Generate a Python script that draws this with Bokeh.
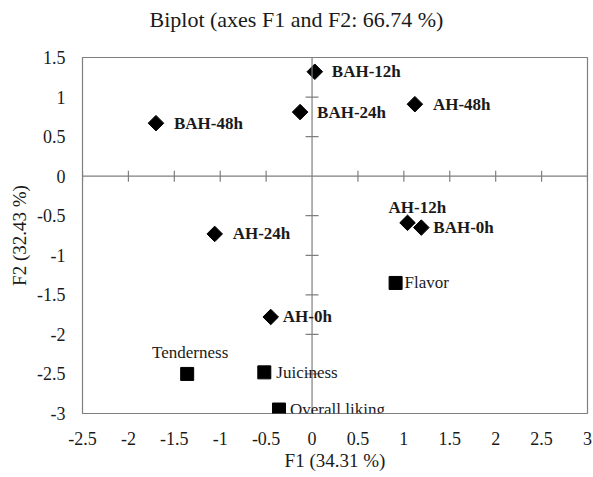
import math
from bokeh.plotting import figure
from bokeh.models import ColumnDataSource, Span, FixedTicker, LabelSet, Title
from bokeh.embed import file_html
from bokeh.resources import INLINE

# ---- data ----
obs_names = ["BAH-0h", "BAH-12h", "BAH-24h", "BAH-48h", "AH-0h", "AH-12h", "AH-24h", "AH-48h"]
obs_f1 = [1.19, 0.03, -0.13, -1.70, -0.45, 1.04, -1.06, 1.12]
obs_f2 = [-0.65, 1.32, 0.81, 0.67, -1.78, -0.59, -0.73, 0.91]

var_names = ["Tenderness", "Juiciness", "Flavor", "Overall liking"]
var_f1 = [-1.36, -0.52, 0.91, -0.36]
var_f2 = [-2.50, -2.48, -1.35, -2.95]

x_ticks = [-2.5, -2, -1.5, -1, -0.5, 0, 0.5, 1, 1.5, 2, 2.5, 3]
x_tick_labels = ["-2.5", "-2", "-1.5", "-1", "-0.5", "0", "0.5", "1", "1.5", "2", "2.5", "3"]
y_ticks = [-3, -2.5, -2, -1.5, -1, -0.5, 0, 0.5, 1, 1.5]
y_tick_labels = ["-3", "-2.5", "-2", "-1.5", "-1", "-0.5", "0", "0.5", "1", "1.5"]

title_text = "Biplot (axes F1 and F2: 66.74 %)"
x_title = "F1 (34.31 %)"
y_title = "F2 (32.43 %)"

# ---- label placement (pixels; positive dy = up) ----
obs_dx = [12, 17, 17, 18, 12, -19, 18, 18]
obs_dy = [0, 0, 0, 0, 0, 15, 0, 0]
var_dx = [3, 12, 9, 11]
var_dy = [21, 0, 0, 0]
var_align = ["center", "left", "left", "left"]

FONT = "Liberation Serif"
TXT = "#1a1a1a"
GRAY = "#7f7f7f"

p = figure(frame_width=505, frame_height=356, x_range=(-2.5, 3), y_range=(-3, 1.5),
           output_backend="svg", toolbar_location=None,
           min_border_left=75, min_border_right=5, min_border_top=49, min_border_bottom=56)
p.background_fill_color = "white"
p.border_fill_color = "white"
p.outline_line_color = GRAY
p.outline_line_width = 1.2
p.grid.visible = False

# blank spacer between the title and the frame
p.add_layout(Title(text=" ", text_font_size="1px", standoff=19), "above")

p.title.text = title_text
p.title.text_font = FONT
p.title.text_font_size = "22px"
p.title.text_font_style = "normal"
p.title.text_color = TXT
p.title.align = "left"
p.title.offset = 67
p.title.standoff = 8

for ax, ticks, labels in ((p.xaxis[0], x_ticks, x_tick_labels), (p.yaxis[0], y_ticks, y_tick_labels)):
    ax.ticker = FixedTicker(ticks=ticks)
    ax.major_label_overrides = {t: l for t, l in zip(ticks, labels)}
    ax.axis_line_color = None
    ax.major_tick_line_color = None
    ax.minor_tick_line_color = None
    ax.major_tick_out = 0
    ax.major_tick_in = 0
    ax.minor_tick_out = 0
    ax.minor_tick_in = 0
    ax.major_label_text_font = FONT
    ax.major_label_text_font_size = "18px"
    ax.major_label_text_color = TXT
    ax.axis_label_text_font = FONT
    ax.axis_label_text_font_size = "19px"
    ax.axis_label_text_font_style = "normal"
    ax.axis_label_text_color = TXT

p.xaxis.axis_label = x_title
p.yaxis.axis_label = y_title
p.xaxis.major_label_standoff = 18
p.xaxis.axis_label_standoff = 2
p.yaxis.major_label_standoff = 17
p.yaxis.axis_label_standoff = 4

# thin blank spacer outside the y-axis title
p.add_layout(Title(text=" ", text_font_size="1px", standoff=3), "left")

# axes through the origin
p.add_layout(Span(location=0, dimension="width", line_color=GRAY, line_width=1.2))
p.add_layout(Span(location=0, dimension="height", line_color=GRAY, line_width=1.2))

xt = [t for t in x_ticks if t != 0]
yt = [t for t in y_ticks if t != 0]
p.scatter(x=xt, y=[0] * len(xt), marker="dash", size=11, angle=math.pi / 2,
          line_color=GRAY, line_width=1.2)
p.scatter(x=[0] * len(yt), y=yt, marker="dash", size=13,
          line_color=GRAY, line_width=1.2)

obs_src = ColumnDataSource(dict(x=obs_f1, y=obs_f2, name=obs_names, dx=obs_dx, dy=obs_dy))
var_src = ColumnDataSource(dict(x=var_f1, y=var_f2, name=var_names, dx=var_dx, dy=var_dy,
                                align=var_align))

p.scatter("x", "y", source=obs_src, marker="square", angle=math.pi / 4, size=11,
          fill_color="black", line_color="black")
p.scatter("x", "y", source=var_src, marker="square", size=13,
          fill_color="black", line_color="black")

p.add_layout(LabelSet(x="x", y="y", text="name", source=obs_src, x_offset="dx", y_offset="dy",
                      text_font=FONT, text_font_size="17px", text_font_style="bold",
                      text_color=TXT, text_align="left", text_baseline="middle"))
p.add_layout(LabelSet(x="x", y="y", text="name", source=var_src, x_offset="dx", y_offset="dy",
                      text_font=FONT, text_font_size="17px", text_font_style="normal",
                      text_color=TXT, text_align="align", text_baseline="middle"))

open("out.html", "w").write(file_html(p, INLINE))
